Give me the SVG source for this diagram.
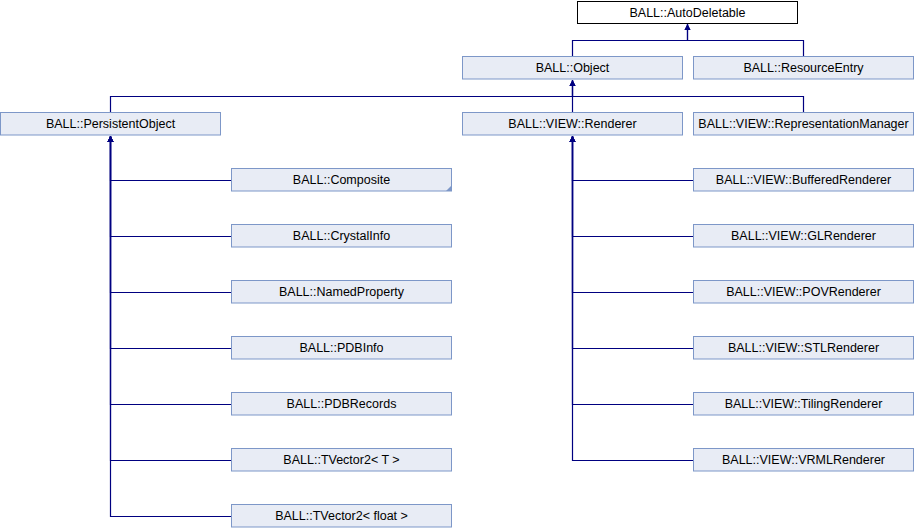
<svg xmlns="http://www.w3.org/2000/svg" width="914" height="528" viewBox="0 0 914 528">
<style>
.n rect{fill:#e8ecf5;stroke:#7d97c8;stroke-width:1}
.root rect{fill:#ffffff;stroke:#000000;stroke-width:1}
text{font-family:"Liberation Sans",Arial,sans-serif;font-size:12.5px;fill:#000;text-anchor:middle}
.e path{fill:none;stroke:#000080;stroke-width:1.2}
</style>
<defs>
<marker id="a" markerWidth="8" markerHeight="8" refX="6" refY="3.5" orient="auto" markerUnits="userSpaceOnUse">
<path d="M0,0.5 L6,3.5 L0,6.5 Z" fill="#000080"/>
</marker>
</defs>
<g class="e" id="edges">
<path d="M572.5,56 V40.5 H687.5 V24" marker-end="url(#a)"/>
<path d="M803.5,56 V40.5 H687.5 V24" marker-end="url(#a)"/>
<path d="M110.5,112 V96.5 H572.5 V80" marker-end="url(#a)"/>
<path d="M572.5,112 V80" marker-end="url(#a)"/>
<path d="M803.5,112 V96.5 H572.5 V80" marker-end="url(#a)"/>
<path d="M231,180.5 H110.5 V136" marker-end="url(#a)"/>
<path d="M231,236.5 H110.5 V136" marker-end="url(#a)"/>
<path d="M231,292.5 H110.5 V136" marker-end="url(#a)"/>
<path d="M231,348.5 H110.5 V136" marker-end="url(#a)"/>
<path d="M231,404.5 H110.5 V136" marker-end="url(#a)"/>
<path d="M231,460.5 H110.5 V136" marker-end="url(#a)"/>
<path d="M231,516.5 H110.5 V136" marker-end="url(#a)"/>
<path d="M693,180.5 H572.5 V136" marker-end="url(#a)"/>
<path d="M693,236.5 H572.5 V136" marker-end="url(#a)"/>
<path d="M693,292.5 H572.5 V136" marker-end="url(#a)"/>
<path d="M693,348.5 H572.5 V136" marker-end="url(#a)"/>
<path d="M693,404.5 H572.5 V136" marker-end="url(#a)"/>
<path d="M693,460.5 H572.5 V136" marker-end="url(#a)"/>
</g>
<g id="AutoDeletable" class="root"><rect x="577.5" y="1.5" width="220" height="22"/><text x="687.5" y="17">BALL::AutoDeletable</text></g>
<g id="Object" class="n"><rect x="462.5" y="56.5" width="220" height="22.5"/><text x="572.5" y="72">BALL::Object</text></g>
<g id="ResourceEntry" class="n"><rect x="693.5" y="56.5" width="220" height="22.5"/><text x="803.5" y="72">BALL::ResourceEntry</text></g>
<g id="PersistentObject" class="n"><rect x="0.5" y="112.5" width="220" height="22.5"/><text x="110.5" y="128">BALL::PersistentObject</text></g>
<g id="Renderer" class="n"><rect x="462.5" y="112.5" width="220" height="22.5"/><text x="572.5" y="128">BALL::VIEW::Renderer</text></g>
<g id="RepresentationManager" class="n"><rect x="693.5" y="112.5" width="220" height="22.5"/><text x="803.5" y="128">BALL::VIEW::RepresentationManager</text></g>
<g id="Composite" class="n"><rect x="231.5" y="168.5" width="220" height="22.5"/><polygon points="451.5,185.5 451.5,191 446,191" fill="#7d97c8"/><text x="341.5" y="184">BALL::Composite</text></g>
<g id="CrystalInfo" class="n"><rect x="231.5" y="224.5" width="220" height="22.5"/><text x="341.5" y="240">BALL::CrystalInfo</text></g>
<g id="NamedProperty" class="n"><rect x="231.5" y="280.5" width="220" height="22.5"/><text x="341.5" y="296">BALL::NamedProperty</text></g>
<g id="PDBInfo" class="n"><rect x="231.5" y="336.5" width="220" height="22.5"/><text x="341.5" y="352">BALL::PDBInfo</text></g>
<g id="PDBRecords" class="n"><rect x="231.5" y="392.5" width="220" height="22.5"/><text x="341.5" y="408">BALL::PDBRecords</text></g>
<g id="TVector2T" class="n"><rect x="231.5" y="448.5" width="220" height="22.5"/><text x="341.5" y="464">BALL::TVector2&lt; T &gt;</text></g>
<g id="TVector2float" class="n"><rect x="231.5" y="504.5" width="220" height="22.5"/><text x="341.5" y="520">BALL::TVector2&lt; float &gt;</text></g>
<g id="BufferedRenderer" class="n"><rect x="693.5" y="168.5" width="220" height="22.5"/><text x="803.5" y="184">BALL::VIEW::BufferedRenderer</text></g>
<g id="GLRenderer" class="n"><rect x="693.5" y="224.5" width="220" height="22.5"/><text x="803.5" y="240">BALL::VIEW::GLRenderer</text></g>
<g id="POVRenderer" class="n"><rect x="693.5" y="280.5" width="220" height="22.5"/><text x="803.5" y="296">BALL::VIEW::POVRenderer</text></g>
<g id="STLRenderer" class="n"><rect x="693.5" y="336.5" width="220" height="22.5"/><text x="803.5" y="352">BALL::VIEW::STLRenderer</text></g>
<g id="TilingRenderer" class="n"><rect x="693.5" y="392.5" width="220" height="22.5"/><text x="803.5" y="408">BALL::VIEW::TilingRenderer</text></g>
<g id="VRMLRenderer" class="n"><rect x="693.5" y="448.5" width="220" height="22.5"/><text x="803.5" y="464">BALL::VIEW::VRMLRenderer</text></g>
</svg>
